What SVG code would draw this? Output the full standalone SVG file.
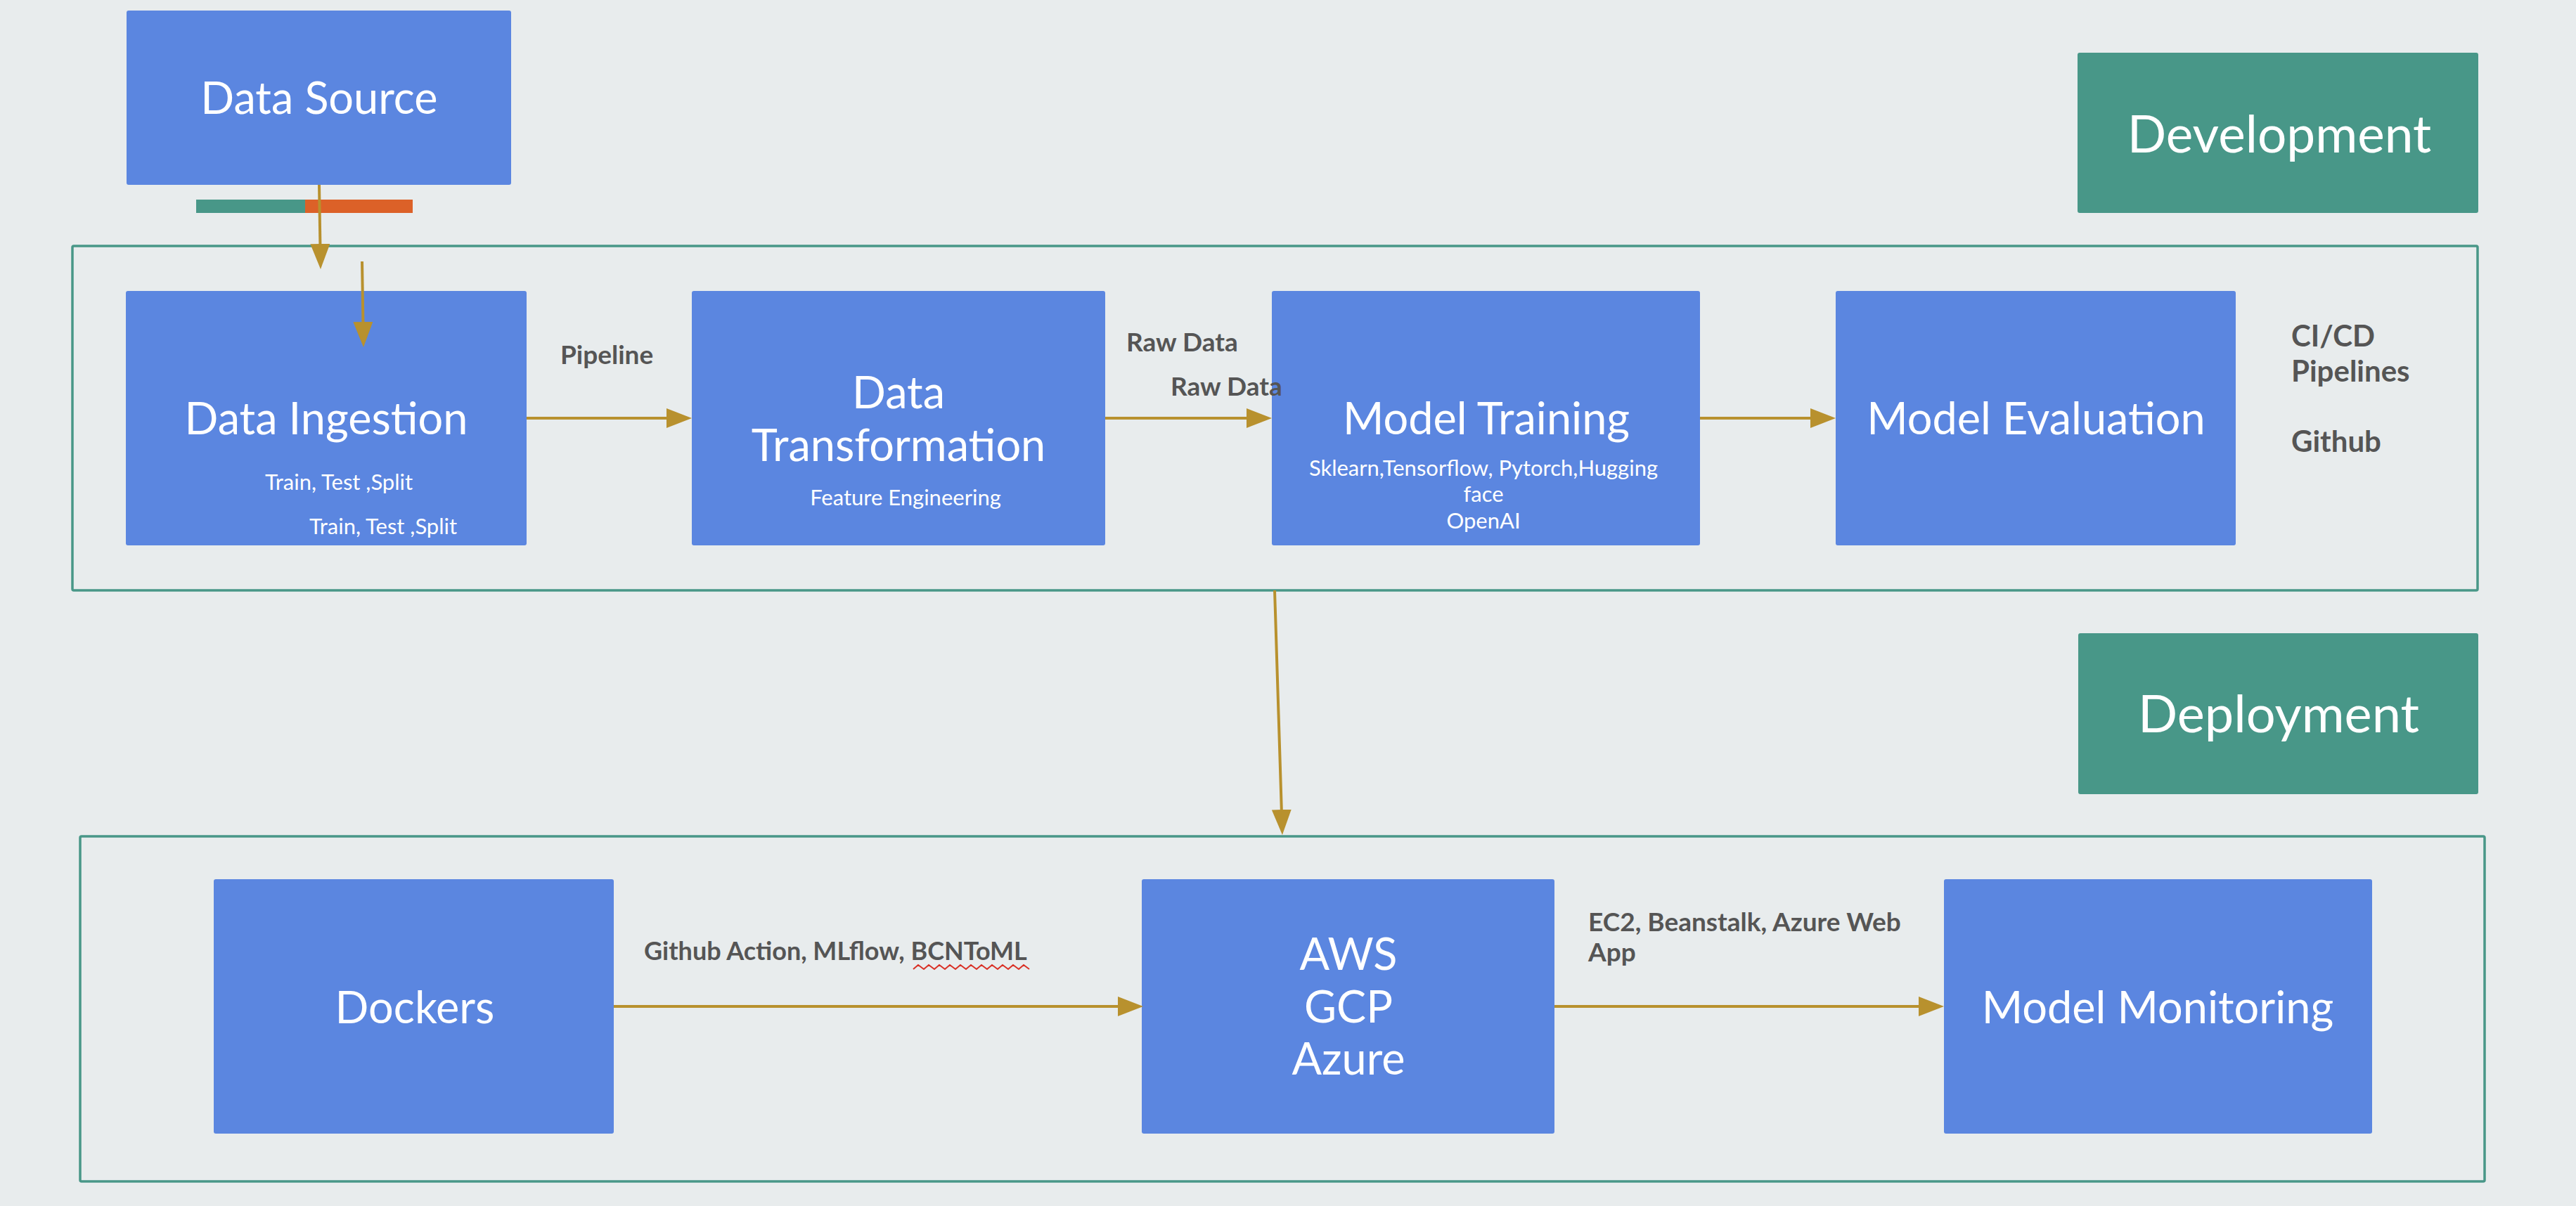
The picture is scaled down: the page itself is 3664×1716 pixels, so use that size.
<svg xmlns="http://www.w3.org/2000/svg" width="3664" height="1716" viewBox="0 0 3664 1716">
<style>
.bg{fill:#e8eced}
.node{fill:#5b86e0}
.tag{fill:#489788}
.frame{fill:none;stroke:#489788;stroke-width:3.5}
.big{font-family:Lato,"Liberation Sans",sans-serif;font-size:63px;fill:#ffffff;text-anchor:middle}
.huge{font-family:Lato,"Liberation Sans",sans-serif;font-size:73px;fill:#ffffff;text-anchor:middle}
.small{font-family:Lato,"Liberation Sans",sans-serif;font-size:31px;fill:#ffffff;text-anchor:middle}
.lbl{font-family:Lato,"Liberation Sans",sans-serif;font-weight:bold;font-size:37px;fill:#555555}
.conn{stroke:#b8912e;stroke-width:4;fill:none;marker-end:url(#ah)}
</style>
<defs>
<marker id="ah" markerUnits="userSpaceOnUse" markerWidth="36" markerHeight="28" refX="6" refY="14" orient="auto">
<path d="M0,0 L36,14 L0,28 z" fill="#b8912e"/>
</marker>
</defs>
<rect class="bg" x="0" y="0" width="3664" height="1716"/>

<g id="frame-development"><rect class="frame" x="103" y="350" width="3421" height="490" rx="2"/></g>
<g id="frame-deployment"><rect class="frame" x="114" y="1190" width="3420" height="491" rx="2"/></g>

<g id="data-source">
<rect class="node" x="180" y="15" width="547" height="248" rx="3"/>
<text class="big" x="454" y="162">Data Source</text>
</g>
<g id="bar">
<rect x="279" y="284" width="155" height="19" fill="#489788"/>
<rect x="434" y="284" width="153" height="19" fill="#dc6128"/>
</g>

<g id="data-ingestion">
<rect class="node" x="179" y="414" width="570" height="362" rx="3"/>
<text class="big" x="464" y="618">Data Ingestion</text>
<text class="small" x="482" y="697">Train, Test ,Split</text>
<text class="small" x="545" y="760">Train, Test ,Split</text>
</g>

<g id="data-transformation">
<rect class="node" x="984" y="414" width="588" height="362" rx="3"/>
<text class="big" x="1278" y="581">Data</text>
<text class="big" x="1278" y="656">Transformation</text>
<text class="small" x="1288" y="719">Feature Engineering</text>
</g>

<g id="model-training">
<rect class="node" x="1809" y="414" width="609" height="362" rx="3"/>
<text class="big" x="2114" y="618">Model Training</text>
<text class="small" x="2110" y="677">Sklearn,Tensorflow, Pytorch,Hugging</text>
<text class="small" x="2110" y="714">face</text>
<text class="small" x="2110" y="752">OpenAI</text>
</g>

<g id="model-evaluation">
<rect class="node" x="2611" y="414" width="569" height="362" rx="3"/>
<text class="big" x="2896" y="618">Model Evaluation</text>
</g>

<g id="development">
<rect class="tag" x="2955" y="75" width="570" height="228" rx="3"/>
<text class="huge" x="3242" y="217">Development</text>
</g>

<g id="deployment">
<rect class="tag" x="2956" y="901" width="569" height="229" rx="3"/>
<text class="huge" x="3241" y="1042" style="font-size:74px">Deployment</text>
</g>

<g id="dockers">
<rect class="node" x="304" y="1251" width="569" height="362" rx="3"/>
<text class="big" x="590" y="1456">Dockers</text>
</g>

<g id="cloud">
<rect class="node" x="1624" y="1251" width="587" height="362" rx="3"/>
<text class="big" x="1918" y="1380">AWS</text>
<text class="big" x="1918" y="1455">GCP</text>
<text class="big" x="1918" y="1529">Azure</text>
</g>

<g id="model-monitoring">
<rect class="node" x="2765" y="1251" width="609" height="362" rx="3"/>
<text class="big" x="3069" y="1456">Model Monitoring</text>
</g>

<g id="labels">
<text class="lbl" x="797" y="518">Pipeline</text>
<text class="lbl" x="1602" y="500">Raw Data</text>
<text class="lbl" x="1665" y="563">Raw Data</text>
<text class="lbl" x="3259" y="493" style="font-size:42px">CI/CD</text>
<text class="lbl" x="3259" y="543" style="font-size:42px">Pipelines</text>
<text class="lbl" x="3259" y="643" style="font-size:42px">Github</text>
<text class="lbl" x="916" y="1366" style="font-size:36px">Github Action, MLflow, BCNToML</text>
<text class="lbl" x="2259" y="1325">EC2, Beanstalk, Azure Web</text>
<text class="lbl" x="2259" y="1368">App</text>
<polyline points="1299,1379 1306,1373 1314,1379 1321,1373 1329,1379 1336,1373 1344,1379 1351,1373 1359,1379 1366,1373 1374,1379 1381,1373 1389,1379 1396,1373 1404,1379 1411,1373 1419,1379 1426,1373 1434,1379 1441,1373 1449,1379 1456,1373 1464,1379" fill="none" stroke="#d93025" stroke-width="2"/>
</g>

<g id="connectors">
<line class="conn" x1="454" y1="263" x2="455.5" y2="353"/>
<line class="conn" x1="515" y1="372" x2="516.5" y2="464"/>
<line class="conn" x1="749" y1="595" x2="954" y2="595"/>
<line class="conn" x1="1572" y1="595" x2="1779" y2="595"/>
<line class="conn" x1="2418" y1="595" x2="2581" y2="595"/>
<line class="conn" x1="1813" y1="840" x2="1823" y2="1158"/>
<line class="conn" x1="873" y1="1432" x2="1596" y2="1432"/>
<line class="conn" x1="2211" y1="1432" x2="2735" y2="1432"/>
</g>
</svg>
